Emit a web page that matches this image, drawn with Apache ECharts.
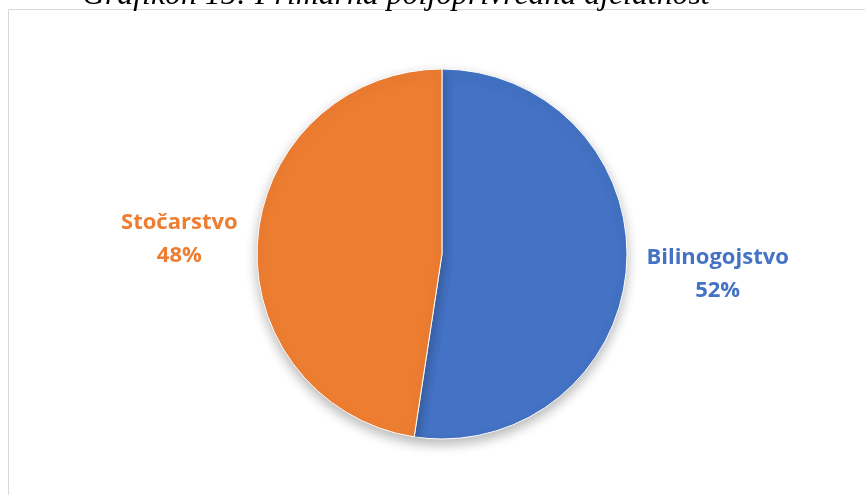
<!DOCTYPE html>
<html>
<head>
<meta charset="utf-8">
<script src="https://cdn.jsdelivr.net/npm/echarts@6/dist/echarts.min.js"></script>
<style>
html,body{margin:0;padding:0;background:#fff;}
#c{width:865px;height:495px;}
</style>
</head>
<body>
<div id="c"></div>
<script>
var titleText = 'Grafikon 15: Primarna poljoprivredna djelatnost';
var categories = ['Bilinogojstvo', 'Stočarstvo'];
var values = [52.4, 47.6];
var colors = ['#4472C4', '#ED7D31'];

var chart = echarts.init(document.getElementById('c'), null, {renderer: 'canvas'});
var labelShift = [5, 0];
chart.setOption({
  animation: false,
  backgroundColor: '#fff',
  title: {
    text: titleText,
    left: 77,
    top: -25,
    textStyle: {
      fontFamily: 'Liberation Serif',
      fontStyle: 'italic',
      fontWeight: 'normal',
      fontSize: 31.8,
      color: '#000'
    }
  },
  graphic: [{
    type: 'rect',
    shape: {x: 8.5, y: 9.5, width: 900, height: 600},
    style: {fill: 'none', stroke: '#d9d9d9', lineWidth: 1},
    silent: true,
    z: -1
  }],
  series: [{
    type: 'pie',
    center: [442, 254],
    radius: 185,
    startAngle: 90,
    clockwise: true,
    percentPrecision: 0,
    avoidLabelOverlap: false,
    itemStyle: {
      borderColor: '#fff',
      borderWidth: 1,
      shadowBlur: 12,
      shadowOffsetY: 5,
      shadowColor: 'rgba(0,0,0,0.28)'
    },
    label: {
      show: true,
      position: 'outside',
      formatter: '{a|{b}}\n{a|{d}%}',
      fontFamily: 'Open Sans',
      fontWeight: 'bold',
      fontSize: 22,
      lineHeight: 33,
      rich: {
        a: {
          align: 'center',
          fontFamily: 'Open Sans',
          fontWeight: 'bold',
          fontSize: 22,
          lineHeight: 33
        }
      }
    },
    labelLine: {show: false, length: 15, length2: 0},
    labelLayout: function (p) {
      return {dy: labelShift[p.dataIndex]};
    },
    data: categories.map(function (c, i) {
      return {
        name: c,
        value: values[i],
        itemStyle: {color: colors[i]},
        label: {color: colors[i]}
      };
    })
  }]
});
</script>
</body>
</html>
